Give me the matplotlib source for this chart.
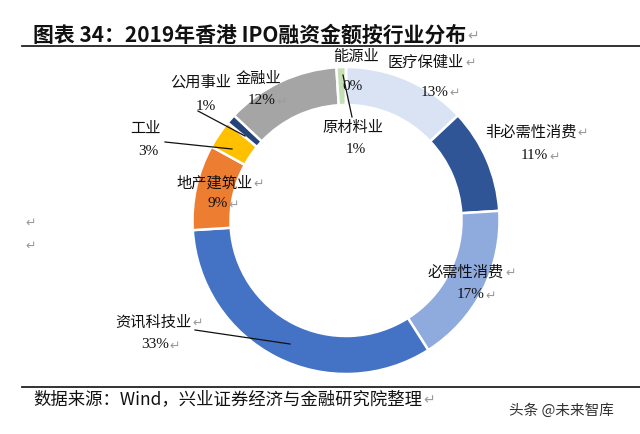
import matplotlib
matplotlib.use('Agg')
import matplotlib.pyplot as plt

plt.rcParams['font.family'] = ['Noto Sans CJK SC', 'DejaVu Sans']

# data, clockwise from 12 o'clock
sectors = ['医疗保健业', '非必需性消费', '必需性消费', '资讯科技业', '地产建筑业',
           '工业', '公用事业', '金融业', '原材料业', '能源业']
shares = [13, 11, 17, 33, 9, 3, 1, 12, 1, 0]
colors = ['#dae3f3', '#2f5597', '#8faadc', '#4472c4', '#ed7d31',
          '#ffc000', '#264478', '#a5a5a5', '#c5e0b4', '#70ad47']

title = '图表 34：2019年香港 IPO融资金额按行业分布'
source = '数据来源：Wind，兴业证券经济与金融研究院整理'
watermark = '头条 @未来智库'

W, H = 640, 435
fig = plt.figure(figsize=(W / 100, H / 100), dpi=100)
ax = fig.add_axes([0, 0, 1, 1])

ax.pie(shares, colors=colors, startangle=-90, counterclock=True,
       center=(346, 221.5), radius=153.5,
       wedgeprops=dict(width=38, edgecolor='white', linewidth=1.8))
ax.set_xlim(0, W)
ax.set_ylim(H, 0)
ax.set_aspect('equal')
ax.axis('off')

renderer = fig.canvas.get_renderer()


def label(x, y, s, mark=True, serif=False, size=11, weight='normal'):
    fam = ['Liberation Serif', 'DejaVu Sans'] if serif else ['Noto Sans CJK SC', 'DejaVu Sans']
    t = ax.text(x, y, s, fontsize=size, family=fam, fontweight=weight,
                ha='left', va='center', color='#111111')
    if mark:
        bb = t.get_window_extent(renderer)
        xr = bb.x1 / fig.dpi / fig.get_figwidth() * W
        ax.text(xr + 1, y + 1, '↵', fontsize=min(size - 2, 10), family=['DejaVu Sans'],
                ha='left', va='center', color='#9a9a9a')
    return t


# header / footer
label(33, 35, title, size=15, weight='bold')
ax.plot([22, W], [47, 47], color='#222222', lw=1.3)
ax.plot([22, W], [388, 388], color='#222222', lw=1.3)
label(33, 399, source, size=12.5)
ax.text(614, 411, watermark, fontsize=10.5, ha='right', va='center', color='#333333')
ax.text(25, 223, '↵', fontsize=9, family=['DejaVu Sans'], ha='left', va='center', color='#9a9a9a')
ax.text(25, 246, '↵', fontsize=9, family=['DejaVu Sans'], ha='left', va='center', color='#9a9a9a')

# leader lines
ax.plot([343, 352], [76, 118], color='#111111', lw=0.9)
ax.plot([198, 245], [112, 137], color='#111111', lw=0.9)
ax.plot([165, 232], [143, 150], color='#111111', lw=0.9)
ax.plot([195, 290], [331, 345], color='#111111', lw=0.9)

# sector labels
pct = {s: f'{v}%' for s, v in zip(sectors, shares)}
label(333, 56, '能源业', mark=False)
label(342, 87, pct['能源业'], mark=False, serif=True)
label(388, 62, '医疗保健业')
label(421, 92, pct['医疗保健业'], serif=True)
label(322, 127, '原材料业', mark=False)
label(346, 150, pct['原材料业'], mark=False, serif=True)
label(170, 82, '公用事业', mark=False)
label(196, 106, pct['公用事业'], mark=False, serif=True)
label(236, 78, '金融业', mark=False)
label(248, 101, pct['金融业'], serif=True)
label(130, 128, '工业', mark=False)
label(138, 152, pct['工业'], mark=False, serif=True)
label(176, 183, '地产建筑业')
label(207, 204, pct['地产建筑业'], serif=True)
label(485, 132, '非必需性消费')
label(521, 156, pct['非必需性消费'], serif=True)
label(428, 272, '必需性消费')
label(457, 295, pct['必需性消费'], serif=True)
label(115, 322, '资讯科技业')
label(141, 345, pct['资讯科技业'], serif=True)

fig.savefig('out.png', dpi=100)
